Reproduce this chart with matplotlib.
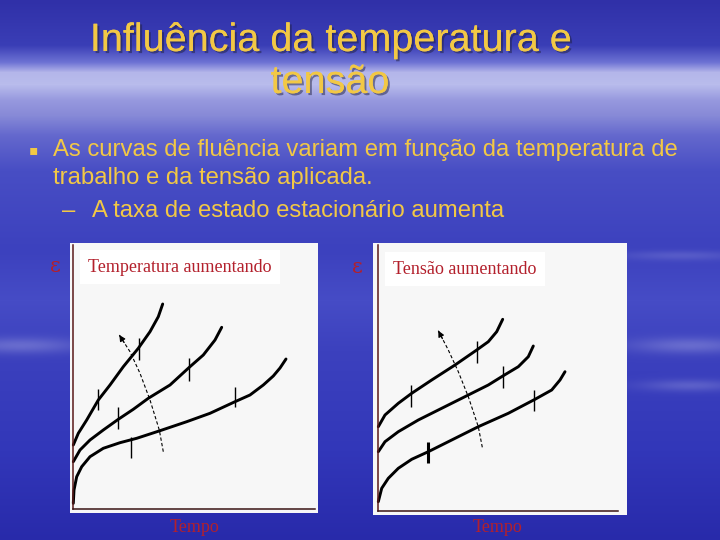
import numpy as np
import matplotlib.pyplot as plt
import matplotlib.patheffects as pe

# --- chart data (time, strain), arbitrary units ---
# left panel: temperature increasing
temp_low_t = [0.3, 1, 3.7, 8.7, 17, 30.3, 47, 63.7, 87, 113.7, 137, 162, 177, 190.3, 200.3, 207, 213]
temp_low_e = [5.7, 19, 32.3, 42.3, 52.3, 60.7, 66.3, 70.7, 78.3, 87.3, 95.7, 107.3, 114, 124, 133, 141, 150]
temp_mid_t = [0.3, 7, 17, 30.3, 45.3, 60.3, 75.3, 97, 116.3, 130.3, 142, 148.7]
temp_mid_e = [47.3, 59, 69, 79, 89.7, 99.7, 110.7, 124, 141.7, 154, 169, 181.7]
temp_high_t = [0.3, 5.3, 13.7, 25.3, 37, 50.3, 65.3, 77, 85.3, 89.7]
temp_high_e = [64, 75.7, 89, 109, 124, 142.3, 160.7, 177.3, 192.3, 205]
temp_marks_t = [58, 162, 45.3, 116.3, 25.3, 66.3]
temp_marks_lo = [50.7, 101.7, 79.7, 128.3, 99, 149]
temp_marks_hi = [72.3, 122.3, 101.7, 150.7, 120, 171.3]
temp_arrow_t = [90.3, 86.3, 77, 67, 57, 46.3]
temp_arrow_e = [57.3, 79, 109, 135.7, 157.3, 174]

# right panel: stress increasing
str_low_t = [0.3, 3.7, 10.3, 20.3, 33.7, 50.3, 70.3, 100.3, 130.3, 157, 173.7, 182, 187]
str_low_e = [9.3, 22.7, 32.7, 42.7, 51.7, 59.3, 69.3, 84.3, 97.7, 111.7, 121, 131, 139.3]
str_mid_t = [0.3, 7, 20.3, 40.3, 63.7, 90.3, 110.3, 125.3, 140.3, 150.3, 155.3]
str_mid_e = [59.3, 69.3, 79.3, 91, 102.7, 116, 126, 135.3, 144.3, 154.3, 165]
str_high_t = [0.3, 7, 20.3, 33.7, 53.7, 77, 98.7, 110.3, 118.7, 124.7]
str_high_e = [84.3, 96, 107.7, 117.7, 131, 146, 161, 169.3, 179.3, 191.7]
str_marks_t = [49.7, 156.3, 125.3, 33, 99.3]
str_marks_lo = [47.7, 100, 122.7, 103.7, 148.3]
str_marks_hi = [69.3, 121, 145, 126, 170.3]
str_marks_w = [2.2, 1, 1, 1, 1]
str_arrow_t = [104.3, 100.3, 90.3, 80.3, 70.3, 60.3]
str_arrow_e = [63.7, 84.3, 114.3, 139.3, 161, 180.3]

W, H = 720, 540
YELLOW = '#f2c845'
RED = '#b3202c'

# --- background: blue slide with a light haze band ---
yy = np.arange(H)[:, None].astype(float)
xx = np.arange(W)[None, :].astype(float)
stops_y = [0, 45, 62, 72, 84, 100, 115, 135, 170, 250, 300, 350, 450, 540]
stops_r = [48, 58, 110, 180, 185, 150, 135, 100, 72, 60, 70, 60, 50, 40]
stops_g = [48, 62, 115, 182, 188, 152, 138, 104, 78, 65, 76, 65, 55, 42]
stops_b = [168, 182, 212, 234, 236, 222, 215, 205, 196, 190, 198, 190, 185, 170]
col = np.stack([np.interp(yy[:, 0], stops_y, s) for s in (stops_r, stops_g, stops_b)], axis=-1)
img = np.repeat(col[:, None, :], W, axis=1)
haze = (0.25 * np.exp(-((yy - 345) / 8) ** 2) * (np.exp(-((xx - 20) / 60) ** 2) + np.exp(-((xx - 690) / 60) ** 2))
        + 0.20 * np.exp(-((yy - 385) / 6) ** 2) * np.exp(-((xx - 690) / 50) ** 2)
        + 0.15 * np.exp(-((yy - 255) / 5) ** 2) * np.exp(-((xx - 680) / 60) ** 2))
img = img + haze[..., None] * (np.array([230, 230, 250]) - img)
img = np.clip(img / 255, 0, 1)

fig = plt.figure(figsize=(7.2, 5.4), dpi=100)
bg = fig.add_axes([0, 0, 1, 1])
bg.imshow(img, extent=[0, W, H, 0], aspect='auto', interpolation='bilinear')
bg.set_xlim(0, W)
bg.set_ylim(H, 0)
bg.axis('off')


def ftext(x, y, s, **kw):
    # place text by slide pixel position, above every axes
    return fig.text(x / W, 1 - y / H, s, **kw)


shadow = [pe.withSimplePatchShadow(offset=(1.5, -1.5), shadow_rgbFace='#202040', alpha=0.5), pe.Normal()]
ftext(331, 40, 'Influência da temperatura e', ha='center', va='center', fontsize=28.5,
      family='Liberation Sans', color=YELLOW, path_effects=shadow)
ftext(330, 82, 'tensão', ha='center', va='center', fontsize=28.5,
      family='Liberation Sans', color=YELLOW, path_effects=shadow)

ftext(33, 150, '▪', ha='center', va='center', fontsize=10, color=YELLOW, family='DejaVu Sans')
body = dict(ha='left', va='center', fontsize=17.2, family='Liberation Sans', color=YELLOW)
ftext(53, 150, 'As curvas de fluência variam em função da temperatura de', **body)
ftext(53, 178, 'trabalho e da tensão aplicada.', **body)
ftext(62, 211, '–', **body)
ftext(92, 211, 'A taxa de estado estacionário aumenta', **body)


def panel(box, origin, top_px, right_px):
    x0, y0, x1, y1 = box
    ox, oy = origin
    ax = fig.add_axes([x0 / W, 1 - y1 / H, (x1 - x0) / W, (y1 - y0) / H])
    ax.set_facecolor('#f7f7f7')
    ax.set_xlim(x0 - ox, x1 - ox)
    ax.set_ylim(oy - y1, oy - y0)
    for s in ('top', 'right'):
        ax.spines[s].set_visible(False)
    ax.spines['left'].set_position(('data', 0))
    ax.spines['bottom'].set_position(('data', 0))
    ax.spines['left'].set_bounds(0, oy - top_px)
    ax.spines['bottom'].set_bounds(0, right_px - ox)
    ax.spines['left'].set_color('#5a1818')
    ax.spines['bottom'].set_color('#3a1414')
    ax.spines['left'].set_linewidth(1.1)
    ax.spines['bottom'].set_linewidth(1.1)
    ax.set_xticks([])
    ax.set_yticks([])
    return ax


def arrow(ax, t, e):
    ax.plot(t, e, color='black', lw=0.8, ls=(0, (3, 2)))
    d = np.hypot(t[-1] - t[-2], e[-1] - e[-2])
    back = (t[-1] - 9 * (t[-1] - t[-2]) / d, e[-1] - 9 * (e[-1] - e[-2]) / d)
    ax.annotate('', xy=(t[-1], e[-1]), xytext=back,
                arrowprops=dict(arrowstyle='-|>', color='black', lw=0.8, mutation_scale=9,
                                shrinkA=0, shrinkB=0))


axl = panel((70, 243, 318, 513), (73, 509), 245, 315)
for t, e in [(temp_low_t, temp_low_e), (temp_mid_t, temp_mid_e), (temp_high_t, temp_high_e)]:
    axl.plot(t, e, color='black', lw=2.1, solid_capstyle='round', solid_joinstyle='round')
axl.vlines(temp_marks_t, temp_marks_lo, temp_marks_hi, color='black', lw=1)
arrow(axl, temp_arrow_t, temp_arrow_e)

axr = panel((373, 243, 627, 515), (378, 511), 245, 618)
for t, e in [(str_low_t, str_low_e), (str_mid_t, str_mid_e), (str_high_t, str_high_e)]:
    axr.plot(t, e, color='black', lw=2.1, solid_capstyle='round', solid_joinstyle='round')
axr.vlines(str_marks_t, str_marks_lo, str_marks_hi, color='black', lw=str_marks_w)
arrow(axr, str_arrow_t, str_arrow_e)

# panel labels
box = dict(boxstyle='square,pad=0.45', fc='white', ec='none')
lab = dict(ha='left', va='center', fontsize=13, family='Liberation Serif', color=RED, bbox=box)
ftext(88, 267, 'Temperatura aumentando', **lab)
ftext(393, 269, 'Tensão aumentando', **lab)
for x, y in [(55, 266), (357, 268)]:
    ftext(x, y, 'ε', ha='center', va='center', fontsize=15, family='DejaVu Serif', color=RED)
for x in [195, 498]:
    ftext(x, 527, 'Tempo', ha='center', va='center', fontsize=13, family='Liberation Serif', color=RED)

fig.savefig('out.png', dpi=100)
